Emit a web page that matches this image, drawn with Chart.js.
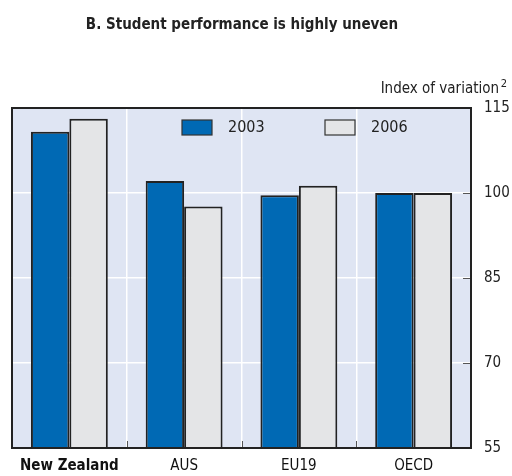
<!DOCTYPE html>
<html>
<head>
<meta charset="utf-8">
<script src="https://cdn.jsdelivr.net/npm/chart.js@4"></script>
<style>
  html, body { margin: 0; padding: 0; background: #fff; }
  #wrap { width: 512px; height: 476px; }
</style>
</head>
<body>
<div id="wrap"><canvas id="perfChart" width="512" height="476"></canvas></div>
<script>
// Chart data
const categories = ["New Zealand", "AUS", "EU19", "OECD"];
const values2003 = [110.8, 102.1, 99.6, 100.0];
const values2006 = [113.1, 97.6, 101.3, 100.0];
const yTicks = [55, 70, 85, 100, 115];

const FONT = "'Liberation Sans Narrow', 'DejaVu Sans Condensed', 'Arial Narrow', sans-serif";

// Background, frame, small tick marks, titles and the in-plot legend
const decorPlugin = {
  id: "decor",
  beforeDraw(chart) {
    const { ctx, chartArea: a } = chart;
    ctx.save();
    ctx.fillStyle = "#dfe5f3";
    ctx.fillRect(a.left, a.top, a.right - a.left, a.bottom - a.top);
    ctx.restore();
  },
  afterDatasetsDraw(chart) {
    const { ctx, chartArea: a } = chart;
    const x = chart.scales.x;
    const y = chart.scales.y;
    ctx.save();

    // tick marks between categories
    ctx.strokeStyle = "#555";
    ctx.lineWidth = 1;
    for (let i = 1; i < categories.length; i++) {
      const px = Math.round((x.getPixelForTick(i - 1) + x.getPixelForTick(i)) / 2) + 0.5;
      ctx.beginPath();
      ctx.moveTo(px, a.bottom);
      ctx.lineTo(px, a.bottom - 7);
      ctx.stroke();
    }
    // tick marks on the right axis
    yTicks.forEach((t) => {
      const py = Math.round(y.getPixelForValue(t)) + 0.5;
      ctx.beginPath();
      ctx.moveTo(a.right, py);
      ctx.lineTo(a.right - 8, py);
      ctx.stroke();
    });

    // frame
    ctx.strokeStyle = "#222";
    ctx.lineWidth = 2;
    ctx.strokeRect(a.left, a.top, a.right - a.left, a.bottom - a.top);

    // legend
    const ds = chart.data.datasets;
    const legendX = [182, 325];
    ctx.font = "16px " + FONT;
    ctx.textBaseline = "middle";
    ds.forEach((d, i) => {
      ctx.fillStyle = d.backgroundColor;
      ctx.fillRect(legendX[i], 120, 30, 15);
      ctx.strokeStyle = "#333";
      ctx.lineWidth = 1.2;
      ctx.strokeRect(legendX[i], 120, 30, 15);
      ctx.fillStyle = "#222";
      ctx.fillText(d.label, legendX[i] + 46, 128);
    });

    // titles
    ctx.fillStyle = "#222";
    ctx.textAlign = "center";
    ctx.font = "bold 15px " + FONT;
    ctx.fillText("B. Student performance is highly uneven", 242, 25);
    ctx.textAlign = "right";
    ctx.font = "15px " + FONT;
    ctx.fillText("Index of variation", 499, 89);
    ctx.font = "11px " + FONT;
    ctx.fillText("2", 507, 84);
    ctx.restore();
  },
};

// Initialize chart
const ctx = document.getElementById("perfChart").getContext("2d");
const perfChart = new Chart(ctx, {
  type: "bar",
  data: {
    labels: categories,
    datasets: [
      {
        label: "2003",
        data: values2003,
        backgroundColor: "#0069b4",
        borderColor: "#222",
        borderWidth: 2,
        categoryPercentage: 0.67,
        barPercentage: 1,
      },
      {
        label: "2006",
        data: values2006,
        backgroundColor: "#e4e5e7",
        borderColor: "#222",
        borderWidth: 2,
        categoryPercentage: 0.67,
        barPercentage: 1,
      },
    ],
  },
  options: {
    responsive: false,
    animation: false,
    layout: {
      padding: { top: 108, left: 12, right: 0, bottom: 0 },
    },
    scales: {
      x: {
        afterFit: (s) => {
          s.height = 28;
        },
        grid: {
          offset: true,
          color: "#ffffff",
          lineWidth: 1.5,
          drawTicks: false,
        },
        border: { display: false },
        ticks: {
          padding: 9,
          color: "#111",
          font: (c) => ({
            family: FONT,
            size: 15,
            weight: c.index === 0 ? "bold" : "normal",
          }),
        },
      },
      y: {
        position: "right",
        min: 55,
        max: 115,
        afterFit: (s) => {
          s.width = 41;
        },
        afterBuildTicks: (s) => {
          s.ticks = yTicks.map((v) => ({ value: v }));
        },
        grid: {
          color: "#ffffff",
          lineWidth: 1.5,
          drawTicks: false,
        },
        border: { display: false },
        ticks: {
          padding: 13,
          color: "#222",
          font: { family: FONT, size: 15 },
        },
      },
    },
    plugins: {
      legend: { display: false },
      tooltip: { enabled: false },
    },
  },
  plugins: [decorPlugin],
});
</script>
</body>
</html>
